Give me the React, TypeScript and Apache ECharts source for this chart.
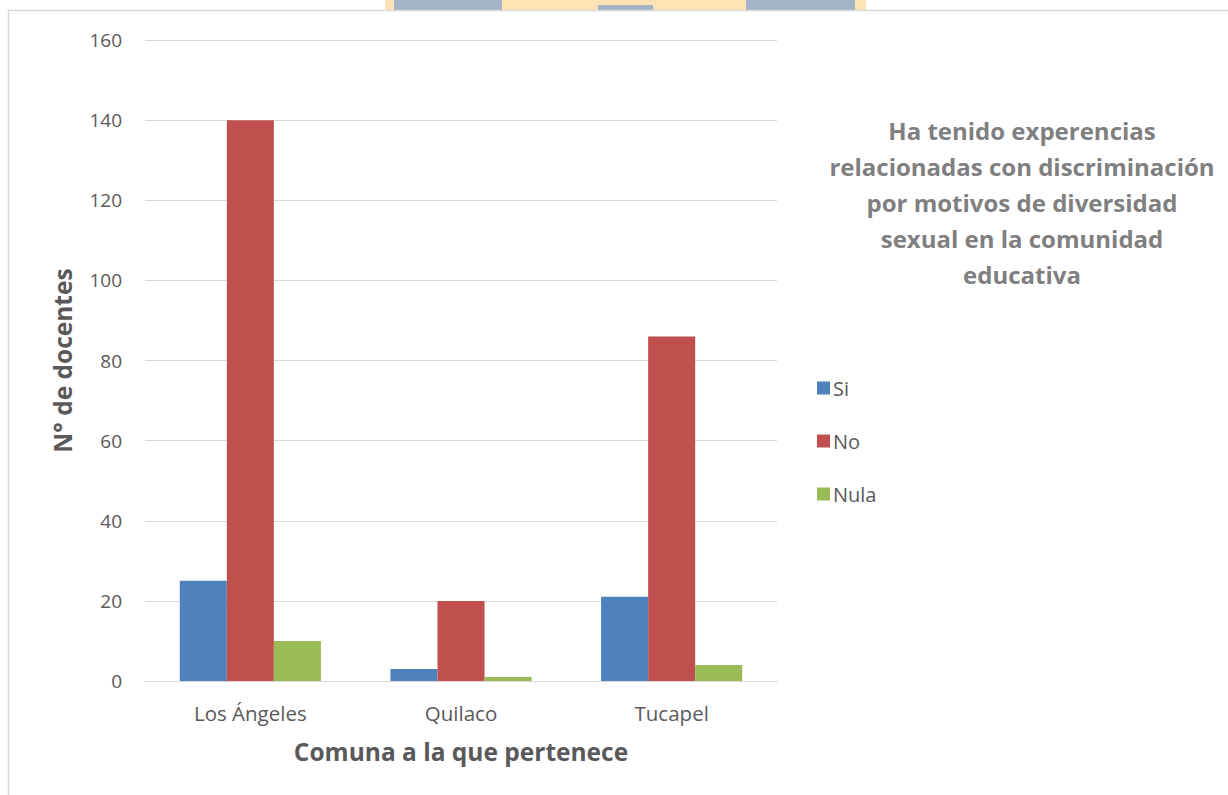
import React, { useEffect, useRef } from "react";
import * as echarts from "echarts";

const categories = ["Los Ángeles", "Quilaco", "Tucapel"];
const siValues = [25, 3, 21];
const noValues = [140, 20, 86];
const nulaValues = [10, 1, 4];
const yTicks = { min: 0, max: 160, interval: 20 };
const titleText =
  "Ha tenido experencias\nrelacionadas con discriminación\npor motivos de diversidad\nsexual en la comunidad\neducativa";

const FONT = "'Open Sans', Calibri, sans-serif";
const TEXT = "#595959";
const GRID = "#d9d9d9";

export default function App() {
  const ref = useRef<HTMLDivElement>(null);
  useEffect(() => {
    document.body.style.margin = "0";
    const chart = echarts.init(ref.current!, null, { renderer: "svg" });
    chart.setOption({
      animation: false,
      backgroundColor: "#ffffff",
      textStyle: { fontFamily: FONT },
      title: {
        text: titleText,
        left: 1017,
        top: 107,
        textAlign: "center",
        textStyle: {
          fontFamily: FONT,
          fontSize: 24,
          fontWeight: "bold",
          color: "#7f7f7f",
          lineHeight: 36,
          align: "center",
        },
      },
      legend: {
        orient: "vertical",
        left: 812,
        top: 373,
        itemWidth: 13,
        itemHeight: 13,
        itemGap: 33,
        icon: "rect",
        textStyle: { fontFamily: FONT, fontSize: 20, color: TEXT, padding: [0, 0, 0, -2] },
        data: ["Si", "No", "Nula"],
      },
      grid: { left: 145, right: 451, top: 40, bottom: 114, containLabel: false },
      xAxis: {
        type: "category",
        data: categories,
        axisLine: { lineStyle: { color: GRID, width: 1 } },
        axisTick: { show: false },
        axisLabel: { fontFamily: FONT, fontSize: 20.5, color: TEXT, margin: 21 },
        name: "Comuna a la que pertenece",
        nameLocation: "middle",
        nameGap: 58,
        nameTextStyle: { fontFamily: FONT, fontSize: 24.5, fontWeight: "bold", color: TEXT },
      },
      yAxis: {
        type: "value",
        min: yTicks.min,
        max: yTicks.max,
        interval: yTicks.interval,
        axisLine: { show: false },
        axisTick: { show: false },
        splitLine: { lineStyle: { color: GRID, width: 1 } },
        axisLabel: { fontFamily: FONT, fontSize: 19, color: TEXT, margin: 23 },
        name: "N° de docentes",
        nameLocation: "middle",
        nameGap: 70,
        nameTextStyle: { fontFamily: FONT, fontSize: 24.5, fontWeight: "bold", color: TEXT },
      },
      series: [
        { name: "Si", type: "bar", data: siValues, itemStyle: { color: "#4F81BD" }, barGap: "0%", barCategoryGap: "33%" },
        { name: "No", type: "bar", data: noValues, itemStyle: { color: "#C0504D" }, barGap: "0%", barCategoryGap: "33%" },
        { name: "Nula", type: "bar", data: nulaValues, itemStyle: { color: "#9BBB59" }, barGap: "0%", barCategoryGap: "33%" },
      ],
      graphic: [
        { type: "rect", shape: { x: 385, y: 0, width: 481, height: 10 }, style: { fill: "#FDE2B4" }, silent: true },
        { type: "rect", shape: { x: 394, y: 0, width: 108, height: 10 }, style: { fill: "#A3B3C8" }, silent: true },
        { type: "rect", shape: { x: 598, y: 5, width: 55, height: 5 }, style: { fill: "#A3B3C8" }, silent: true },
        { type: "rect", shape: { x: 746, y: 0, width: 109, height: 10 }, style: { fill: "#A3B3C8" }, silent: true },
        { type: "line", shape: { x1: 8, y1: 10.5, x2: 1228, y2: 10.5 }, style: { stroke: GRID, lineWidth: 1.5 }, silent: true },
        { type: "line", shape: { x1: 8.5, y1: 10, x2: 8.5, y2: 795 }, style: { stroke: GRID, lineWidth: 1.5 }, silent: true },
      ],
    });
    return () => chart.dispose();
  }, []);
  return <div ref={ref} style={{ width: 1228, height: 795 }} />;
}
